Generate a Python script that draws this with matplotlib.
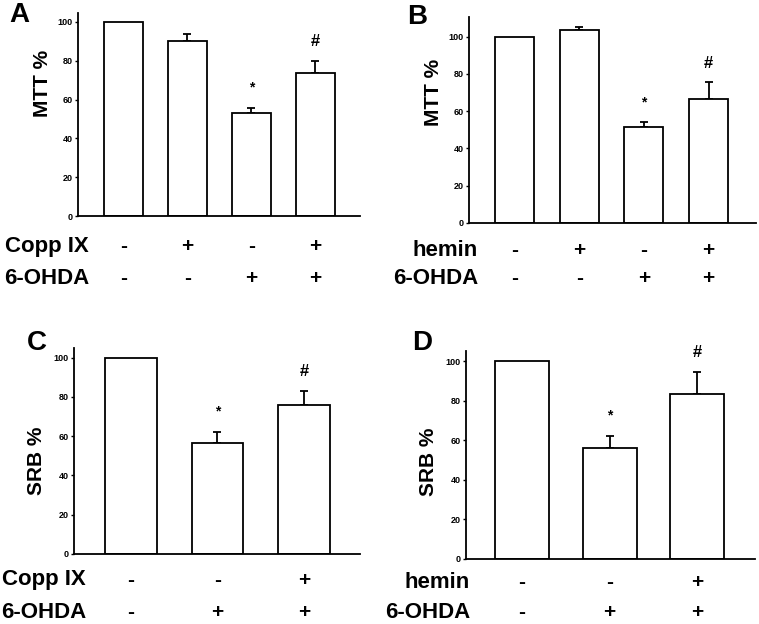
import matplotlib
matplotlib.use("Agg")
import matplotlib.pyplot as plt

plt.rcParams["font.family"] = ["Liberation Sans", "DejaVu Sans"]
plt.rcParams["font.weight"] = "bold"
plt.rcParams["axes.labelweight"] = "bold"

W, H = 759, 624

# Panel A: MTT with Copp IX
a_vals = [100, 90.2, 52.9, 73.9]
a_err = [0, 3.8, 2.6, 6.1]
a_treat = ["-", "+", "-", "+"]
a_ohda = ["-", "-", "+", "+"]
a_marks = ["", "", "*", "#"]

# Panel B: MTT with hemin
b_vals = [100, 103.6, 51.5, 66.5]
b_err = [0, 1.8, 2.6, 9.3]
b_treat = ["-", "+", "-", "+"]
b_ohda = ["-", "-", "+", "+"]
b_marks = ["", "", "*", "#"]

# Panel C: SRB with Copp IX
c_vals = [100, 56.3, 75.7]
c_err = [0, 5.7, 7.5]
c_treat = ["-", "-", "+"]
c_ohda = ["-", "+", "+"]
c_marks = ["", "*", "#"]

# Panel D: SRB with hemin
d_vals = [100, 56.1, 83.5]
d_err = [0, 6.1, 11.1]
d_treat = ["-", "-", "+"]
d_ohda = ["-", "+", "+"]
d_marks = ["", "*", "#"]

yticks = [0, 20, 40, 60, 80, 100]


def add_ax(fig, left, top, right, bottom):
    return fig.add_axes([left / W, 1 - bottom / H, (right - left) / W, (bottom - top) / H])


def panel(fig, box, vals, err, treat, ohda, marks, letter, ylabel, ylab_xy, treat_name,
          xlim, ytop, width, letter_xy, row_y, label_x):
    ax = add_ax(fig, *box)
    x = list(range(len(vals)))
    ax.bar(x, vals, width=width, color="white", edgecolor="black", linewidth=1.3, zorder=2)
    for xi, v, e in zip(x, vals, err):
        if e > 0:
            ax.errorbar(xi, v, yerr=[[0], [e]], fmt="none", ecolor="black",
                        elinewidth=1.3, capsize=3, capthick=1.3, zorder=1)
    for xi, v, e, m in zip(x, vals, err, marks):
        if m == "*":
            ax.text(xi, v + e + 10.5, m, ha="center", va="center", fontsize=10)
        elif m == "#":
            ax.text(xi, v + e + 10, m, ha="center", va="center", fontsize=12)
    ax.set_xlim(*xlim)
    ax.set_ylim(0, ytop)
    ax.set_yticks(yticks)
    ax.set_xticks([])
    ax.tick_params(axis="y", labelsize=6.5, length=2, width=1, pad=2)
    for lab in ax.get_yticklabels():
        lab.set_fontweight("bold")
    for s in ["top", "right"]:
        ax.spines[s].set_visible(False)
    for s in ["left", "bottom"]:
        ax.spines[s].set_linewidth(1.3)

    # y label placed where the reference has it (pixel centre)
    axw = box[2] - box[0]
    axh = box[3] - box[1]
    ax.set_ylabel(ylabel, fontsize=15)
    ax.yaxis.set_label_coords((ylab_xy[0] - box[0]) / axw, (box[3] - ylab_xy[1]) / axh)
    ax.yaxis.label.set_va("center")

    # treatment rows below the axis
    tr = ax.get_xaxis_transform()
    for ry, signs in zip(row_y, [treat, ohda]):
        yy = -(ry - box[3]) / axh
        for xi, s in zip(x, signs):
            ax.text(xi, yy, s, transform=tr, ha="center", va="center", fontsize=15)
    fig.text(label_x / W, 1 - row_y[0] / H, treat_name, ha="right", va="center", fontsize=16)
    fig.text(label_x / W, 1 - row_y[1] / H, "6-OHDA", ha="right", va="center", fontsize=16)
    fig.text(letter_xy[0] / W, 1 - letter_xy[1] / H, letter, ha="left", va="center", fontsize=20)
    return ax


fig = plt.figure(figsize=(W / 100, H / 100), dpi=100)

panel(fig, (78, 13, 360, 216), a_vals, a_err, a_treat, a_ohda, a_marks, "A", "MTT %", (43, 83.5),
      "Copp IX", (-0.71, 3.70), 104.6, 0.61, (9, 15), (247, 278), 89)
panel(fig, (469, 17, 756, 222.7), b_vals, b_err, b_treat, b_ohda, b_marks, "B", "MTT %", (433.5, 92),
      "hemin", (-0.70, 3.73), 110.6, 0.60, (407, 17), (250, 278), 478)
panel(fig, (74, 348.3, 360, 553.7), c_vals, c_err, c_treat, c_ohda, c_marks, "C", "SRB %", (37, 461),
      "Copp IX", (-0.66, 2.65), 104.8, 0.60, (27, 343), (580, 612), 86)
panel(fig, (466, 350.7, 755, 559), d_vals, d_err, d_treat, d_ohda, d_marks, "D", "SRB %", (429, 462),
      "hemin", (-0.64, 2.66), 105.4, 0.615, (412, 343), (583, 613), 470)

fig.savefig("out.png", dpi=100)
